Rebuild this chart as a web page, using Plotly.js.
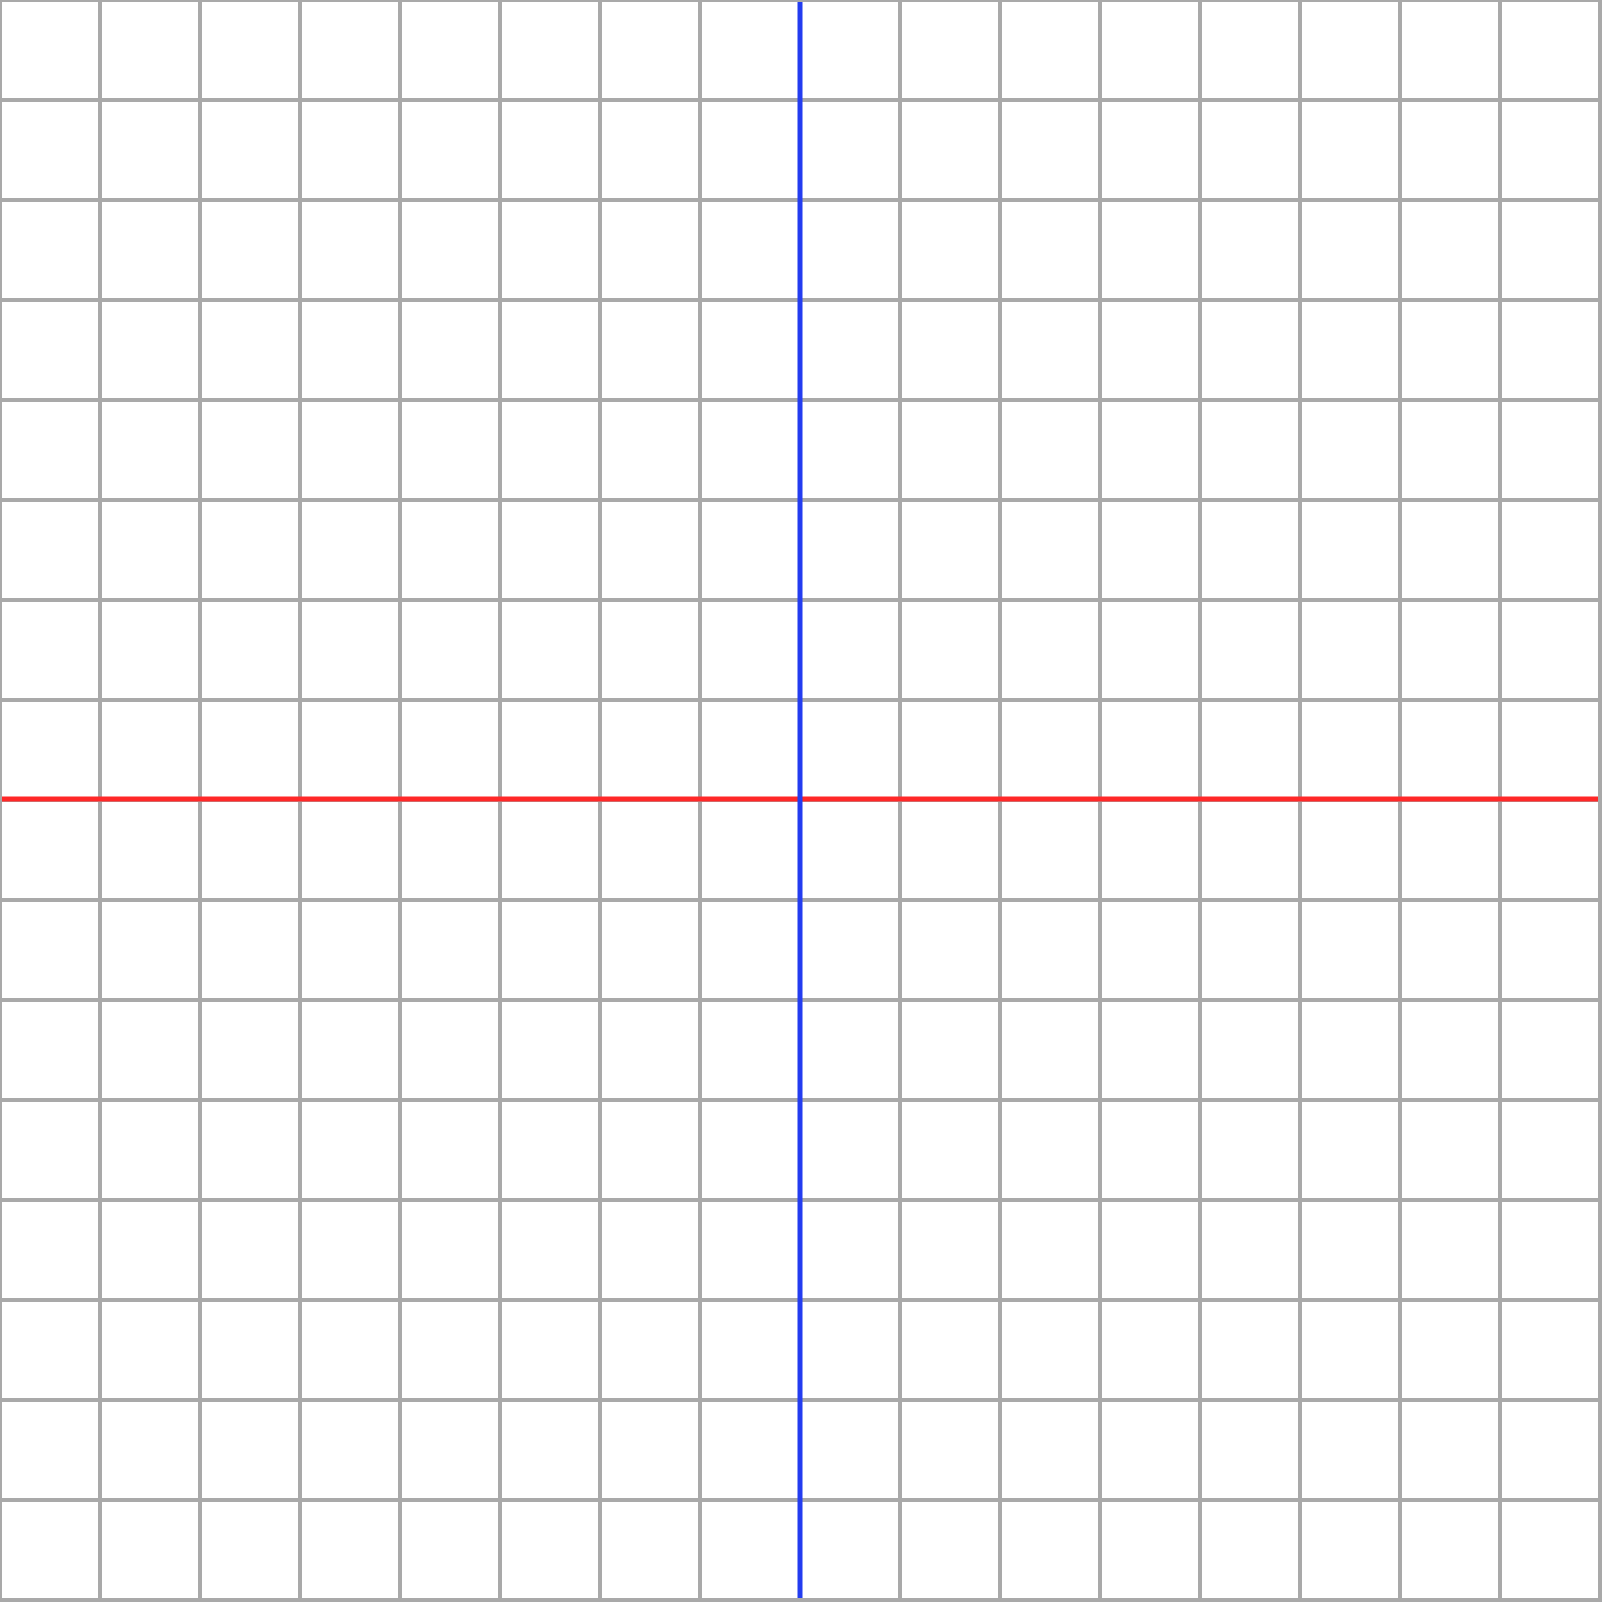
<!DOCTYPE html>
<html>
<head>
<meta charset="utf-8">
<script src="https://cdn.plot.ly/plotly-3.0.1.min.js"></script>
<style>
  html, body { margin: 0; padding: 0; background: #ffffff; }
  #chart { width: 1603px; height: 1603px; }
</style>
</head>
<body>
<div id="chart"></div>
<script>
// Data
const verticalLineX = [0, 0];
const verticalLineY = [-8, 8];
const horizontalLineX = [-8, 8];
const horizontalLineY = [0.01, 0.01];

const gridColor = '#a9a9a9';

const traces = [
  {
    x: horizontalLineX,
    y: horizontalLineY,
    type: 'scatter',
    mode: 'lines',
    line: { color: 'rgb(255,40,40)', width: 5 },
    hoverinfo: 'skip',
    showlegend: false
  },
  {
    x: verticalLineX,
    y: verticalLineY,
    type: 'scatter',
    mode: 'lines',
    line: { color: 'rgb(35,60,240)', width: 5 },
    hoverinfo: 'skip',
    showlegend: false
  }
];

const axisCommon = {
  range: [-7.98, 7.98],
  dtick: 1,
  tick0: 0,
  tickmode: 'linear',
  showgrid: true,
  gridcolor: gridColor,
  gridwidth: 4,
  zeroline: false,
  showticklabels: false,
  ticks: '',
  showline: true,
  mirror: true,
  linecolor: gridColor,
  linewidth: 4,
  fixedrange: true
};

const layout = {
  width: 1603,
  height: 1603,
  margin: { l: 2, r: 5, t: 2, b: 5, pad: 0 },
  paper_bgcolor: '#ffffff',
  plot_bgcolor: '#ffffff',
  showlegend: false,
  xaxis: Object.assign({}, axisCommon),
  yaxis: Object.assign({}, axisCommon)
};

Plotly.newPlot('chart', traces, layout, { staticPlot: true, displayModeBar: false });
</script>
</body>
</html>
